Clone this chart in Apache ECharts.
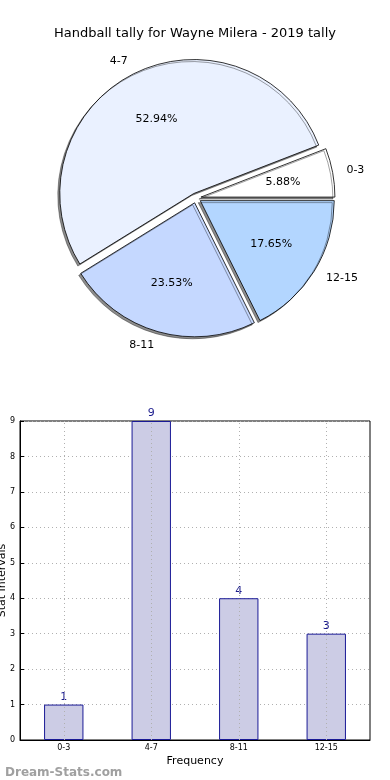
<!DOCTYPE html>
<html>
<head>
<meta charset="utf-8">
<script src="https://cdn.jsdelivr.net/npm/echarts@6/dist/echarts.min.js"></script>
<style>
html,body{margin:0;padding:0;background:#fff;}
#chart{width:390px;height:780px;}
</style>
</head>
<body>
<div id="chart"></div>
<script>
const categories = ['0-3', '4-7', '8-11', '12-15'];
const counts = [1, 9, 4, 3];
const sliceColors = ['#ffffff', '#eaf1ff', '#c5d8ff', '#b3d6ff'];
const yTicks = [0, 1, 2, 3, 4, 5, 6, 7, 8, 9];
const titleText = 'Handball tally for Wayne Milera - 2019 tally';
const xName = 'Frequency';
const yName = 'Stat Intervals';
const watermark = 'Dream-Stats.com';

const FONT = 'DejaVu Sans';
const GRIDLINE = { color: '#b0b0b0', type: [1, 3], width: 1 };
const pieData = categories.map((c, i) => ({
  name: c, value: counts[i], selected: true,
  itemStyle: { color: sliceColors[i] }
}));
const pieLabelData = categories.map((c, i) => ({ name: c, value: counts[i], selected: true }));

const chart = echarts.init(document.getElementById('chart'), null, { renderer: 'canvas' });
chart.setOption({
  animation: false,
  backgroundColor: '#fff',
  title: [
    { text: titleText, left: 'center', top: 22,
      textStyle: { fontFamily: FONT, fontSize: 13, fontWeight: 'normal', color: '#000' } },
    { text: watermark, left: 0, top: 762,
      textStyle: { fontFamily: FONT, fontSize: 12, fontWeight: 'bold', color: '#a0a0a0' } }
  ],
  grid: { left: 20, right: 20, top: 421, bottom: 40, containLabel: false, outerBoundsMode: 'none',
    show: true, borderColor: '#000', borderWidth: 1, backgroundColor: 'transparent' },
  xAxis: {
    type: 'category', data: categories,
    axisLine: { lineStyle: { color: '#000', width: 1 } },
    axisTick: { show: true, alignWithLabel: true, inside: true, length: 4, lineStyle: { color: '#000' } },
    axisLabel: { fontFamily: FONT, fontSize: 8, color: '#000', margin: 4 },
    splitLine: { show: false },
    name: xName, nameLocation: 'middle', nameGap: 16, nameMoveOverlap: false,
    nameTextStyle: { fontFamily: FONT, fontSize: 11, color: '#000' }
  },
  yAxis: {
    type: 'value', min: 0, max: yTicks[yTicks.length - 1], interval: 1,
    axisLine: { show: true, lineStyle: { color: '#000', width: 1 } },
    axisTick: { show: true, inside: true, length: 4, lineStyle: { color: '#000' } },
    axisLabel: { fontFamily: FONT, fontSize: 8, color: '#000', margin: 5 },
    splitLine: { show: true, lineStyle: GRIDLINE },
    name: yName, nameLocation: 'middle', nameGap: 12, nameMoveOverlap: false,
    nameTextStyle: { fontFamily: FONT, fontSize: 11, color: '#000' }
  },
  series: [
    {
      type: 'pie', center: [196, 198], radius: 134,
      startAngle: 0, clockwise: false,
      selectedMode: 'multiple', selectedOffset: 5,
      silent: true, avoidLabelOverlap: false,
      data: pieData,
      itemStyle: { borderColor: '#000', borderWidth: 0.8,
        shadowColor: 'rgba(0,0,0,0.45)', shadowBlur: 0, shadowOffsetX: -2, shadowOffsetY: 2 },
      label: { position: 'outside', formatter: '{b}', fontFamily: FONT, fontSize: 11, color: '#000', distanceToLabelLine: 0 },
      labelLine: { show: false, length: 14, length2: 0 },
      emphasis: { disabled: true }
    },
    {
      type: 'pie', center: [196, 198], radius: [27, 134],
      startAngle: 0, clockwise: false,
      selectedMode: 'multiple', selectedOffset: 5,
      silent: true, avoidLabelOverlap: false,
      data: pieLabelData,
      itemStyle: { color: 'rgba(0,0,0,0)', borderWidth: 0 },
      label: { position: 'inside', formatter: '{d}%', fontFamily: FONT, fontSize: 11, color: '#000' },
      labelLine: { show: false },
      emphasis: { disabled: true }
    },
    {
      type: 'bar', data: counts, barWidth: '45%',
      itemStyle: { color: '#ccccE5', borderColor: '#1a1a96', borderWidth: 1 },
      label: { show: true, position: 'top', distance: 2, fontFamily: FONT, fontSize: 11, color: '#1a1a8c' },
      emphasis: { disabled: true },
      markLine: {
        silent: true, symbol: 'none', label: { show: false },
        lineStyle: GRIDLINE, emphasis: { disabled: true },
        data: categories.map(c => ({ xAxis: c }))
      }
    }
  ]
});
</script>
</body>
</html>
